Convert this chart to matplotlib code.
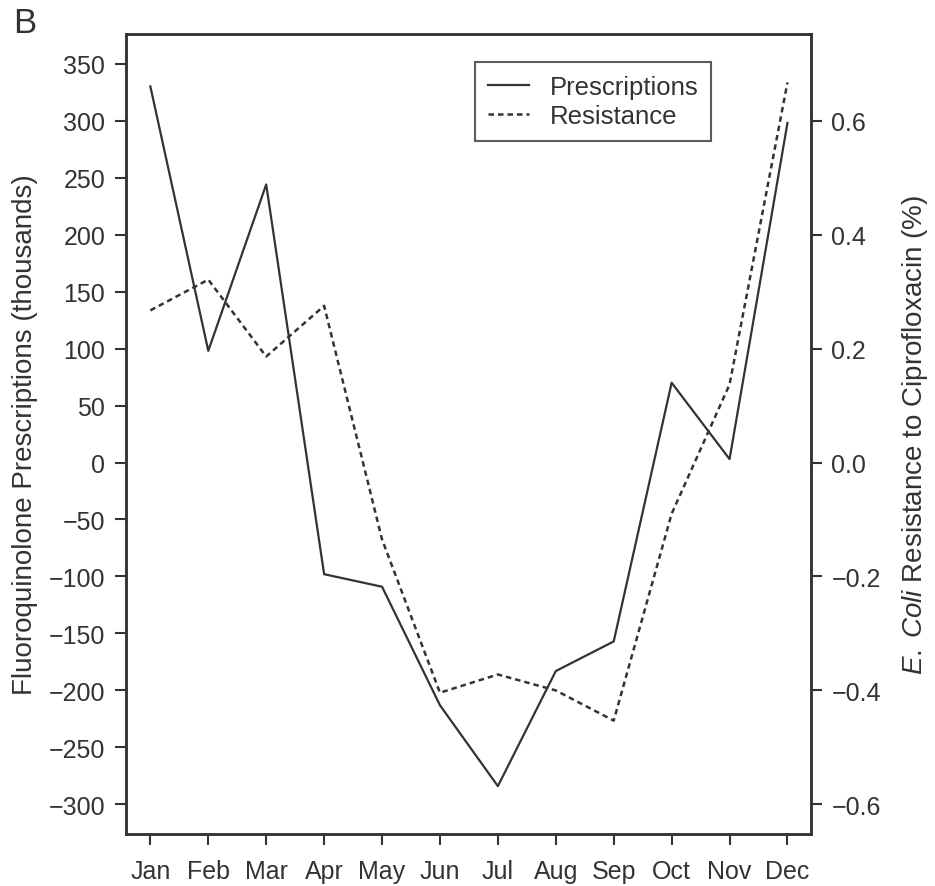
import numpy as np
import matplotlib
matplotlib.use("Agg")
import matplotlib.pyplot as plt

plt.rcParams['font.family'] = ['Liberation Sans', 'DejaVu Sans']
plt.rcParams['mathtext.fontset'] = 'custom'
plt.rcParams['mathtext.rm'] = 'Liberation Sans'
plt.rcParams['mathtext.it'] = 'Liberation Sans:italic'

months = ["Jan", "Feb", "Mar", "Apr", "May", "Jun",
          "Jul", "Aug", "Sep", "Oct", "Nov", "Dec"]
# thousands of prescriptions (left axis)
prescriptions = [330, 98, 244, -98, -109, -213, -284, -183, -157, 70, 3, 298]
# resistance % (right axis)
resistance = [0.267, 0.321, 0.186, 0.275, -0.135, -0.404, -0.372, -0.40, -0.453, -0.09, 0.137, 0.667]

left_ticks = list(range(-300, 351, 50))
right_ticks = [-0.6, -0.4, -0.2, 0.0, 0.2, 0.4, 0.6]

ink = "#333333"
fs_tick = 18
fs_lab = 20

fig = plt.figure(figsize=(9.35, 8.87), dpi=100)
ax = fig.add_axes([0.1348, 0.0586, 0.867 - 0.1348, 0.9605 - 0.0586])
ax2 = ax.twinx()

x = np.arange(len(months))
l1, = ax.plot(x, prescriptions, color=ink, lw=1.6, label="Prescriptions")
l2, = ax2.plot(x, resistance, color=ink, lw=1.8, linestyle=(0, (2.2, 1.6)), label="Resistance")

ax.set_xlim(-0.42, 11.4)
ax.set_ylim(-326, 376)
ax2.set_ylim(-0.652, 0.752)

ax.set_xticks(x)
ax.set_xticklabels(months)
ax.set_yticks(left_ticks)
ax.set_yticklabels([str(v).replace("-", "\u2212") for v in left_ticks])
ax2.set_yticks(right_ticks)
ax2.set_yticklabels([f"{v:.1f}".replace("-", "\u2212") for v in right_ticks])

for a in (ax, ax2):
    a.tick_params(direction="out", length=8, width=1.5, colors=ink, labelsize=fs_tick, pad=7)
    for s in a.spines.values():
        s.set_color(ink)
        s.set_linewidth(1.8)
ax.tick_params(axis="x", pad=10)

ax.set_ylabel("Fluoroquinolone Prescriptions (thousands)", fontsize=fs_lab, color=ink)
ax.yaxis.set_label_coords(-0.128, 0.5)
ax2.set_ylabel(r"$\mathit{E.\;Coli}$ Resistance to Ciprofloxacin (%)", fontsize=fs_lab, color=ink)
ax2.yaxis.set_label_coords(1.131, 0.5)

leg = ax.legend(handles=[l1, l2], loc="upper right", bbox_to_anchor=(0.855, 0.965),
                borderaxespad=0, fontsize=18.5, frameon=True, fancybox=False,
                handlelength=1.6, borderpad=0.5, labelspacing=0.2, handletextpad=0.8)
leg.get_frame().set_edgecolor(ink)
leg.get_frame().set_linewidth(1.5)
for t in leg.get_texts():
    t.set_color(ink)

fig.text(0.014, 0.992, "B", fontsize=25, color=ink, va="top", ha="left")

fig.savefig("out.png", dpi=100)
